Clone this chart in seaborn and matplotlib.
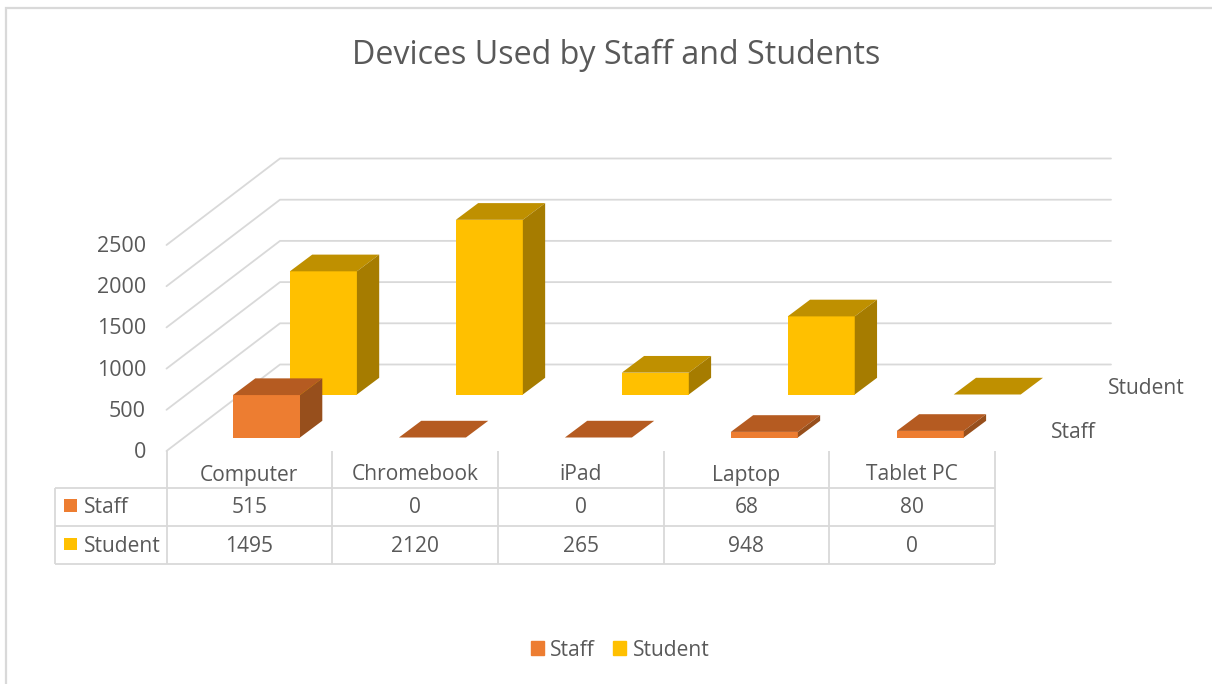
import matplotlib
matplotlib.use("Agg")
import matplotlib.pyplot as plt
import seaborn as sns
from matplotlib.patches import Rectangle, Patch

categories = ["Computer", "Chromebook", "iPad", "Laptop", "Tablet PC"]
staff = [515, 0, 0, 68, 80]
student = [1495, 2120, 265, 948, 0]
y_ticks = [0, 500, 1000, 1500, 2000, 2500]
title = "Devices Used by Staff and Students"

W, H = 1212, 684
PX_PER_UNIT = 0.0824
CAT_STEP = 165.95
BAR_W = 67.0
DEPTH_X, DEPTH_Y = 22.3, 16.7
GRID = "#D9D9D9"
TEXT = "#595959"
ORANGE = ("#ED7D31", "#B55B21", "#974F1C")
YELLOW = ("#FFC000", "#BF9000", "#A67C00")
FS = 15.1
TICK_FS = 15.5

sns.set_theme(style="white")
plt.rcParams["font.family"] = ["Open Sans", "DejaVu Sans"]

fig = plt.figure(figsize=(W / 100, H / 100), dpi=100, facecolor="white")

# pixel-space layer for frame and walls
bg = fig.add_axes([0, 0, 1, 1])
bg.set_xlim(0, W)
bg.set_ylim(H, 0)
bg.set_axis_off()
lw = 1.3
bg.plot([5.5, 5.5, W], [H, 7.5, 7.5], color=GRID, lw=1.6, solid_joinstyle="miter")


def front_y(v):
    return 451 - v * PX_PER_UNIT


for v in y_ticks:
    y = front_y(v)
    bg.plot([166.5, 280, 1111], [y, y - 86.5, y - 86.5], color=GRID, lw=lw)
    bg.text(146, y + 1.5, str(v), ha="right", va="center", color=TEXT, fontsize=TICK_FS)


def series_axes(series, base_px, center_px, colors):
    ax = fig.add_axes([0, 0, 1, 1], facecolor="none")
    sns.barplot(x=categories, y=series, order=categories, color=colors[0], saturation=1,
                width=BAR_W / CAT_STEP, linewidth=0, ax=ax)
    ax.set_xlim(-center_px / CAT_STEP, (W - center_px) / CAT_STEP)
    ax.set_ylim((base_px - H) / PX_PER_UNIT, base_px / PX_PER_UNIT)
    ax.set_axis_off()
    hw = BAR_W / CAT_STEP / 2
    dx = DEPTH_X / CAT_STEP
    dy = DEPTH_Y / PX_PER_UNIT
    for i, v in enumerate(series):
        ax.fill([i - hw, i + hw, i + hw + dx, i - hw + dx], [v, v, v + dy, v + dy],
                color=colors[1], lw=0)
        if v > 0:
            ax.fill([i + hw, i + hw + dx, i + hw + dx, i + hw], [0, dy, v + dy, v],
                    color=colors[2], lw=0)
    return ax


series_axes(student, 394.5, 323.4, YELLOW)
series_axes(staff, 437.5, 266.5, ORANGE)

# text / table layer above the bars
fg = fig.add_axes([0, 0, 1, 1], facecolor="none")
fg.set_xlim(0, W)
fg.set_ylim(H, 0)
fg.set_axis_off()

fg.text(616, 55, title, ha="center", va="center", color=TEXT, fontsize=23.2)
fg.text(1108, 388, "Student", ha="left", va="center", color=TEXT, fontsize=FS)
fg.text(1051, 432, "Staff", ha="left", va="center", color=TEXT, fontsize=FS)

col_x = [166.5 + 165.7 * i for i in range(len(categories) + 1)]
rows_y = [488, 526, 564]
for x in col_x:
    fg.plot([x, x], [451, 564], color=GRID, lw=lw, solid_capstyle="butt")
for y in rows_y:
    fg.plot([55, col_x[-1]], [y, y], color=GRID, lw=lw, solid_capstyle="butt")
fg.plot([55, 55], [488, 564], color=GRID, lw=lw, solid_capstyle="butt")

for i, cat in enumerate(categories):
    cx = (col_x[i] + col_x[i + 1]) / 2
    fg.text(cx, 475, cat, ha="center", va="center", color=TEXT, fontsize=FS)
    fg.text(cx, 507.5, str(staff[i]), ha="center", va="center", color=TEXT, fontsize=FS)
    fg.text(cx, 546, str(student[i]), ha="center", va="center", color=TEXT, fontsize=FS)

for name, yc, col in [("Staff", 505.5, ORANGE[0]), ("Student", 544, YELLOW[0])]:
    fg.add_patch(Rectangle((64.3, yc - 6.3), 12.7, 12.7, color=col, lw=0))
    fg.text(83.5, yc + 2, name, ha="left", va="center", color=TEXT, fontsize=FS)

handles = [Patch(color=ORANGE[0], label="Staff"), Patch(color=YELLOW[0], label="Student")]
fg.legend(handles=handles, ncol=2, frameon=False, loc="center",
          bbox_to_anchor=(620 / W, 1 - 650 / H), bbox_transform=fig.transFigure,
          fontsize=FS, labelcolor=TEXT, handlelength=0.62, handleheight=0.62,
          handletextpad=0.3, columnspacing=0.9)

fig.savefig("out.png", dpi=100)
